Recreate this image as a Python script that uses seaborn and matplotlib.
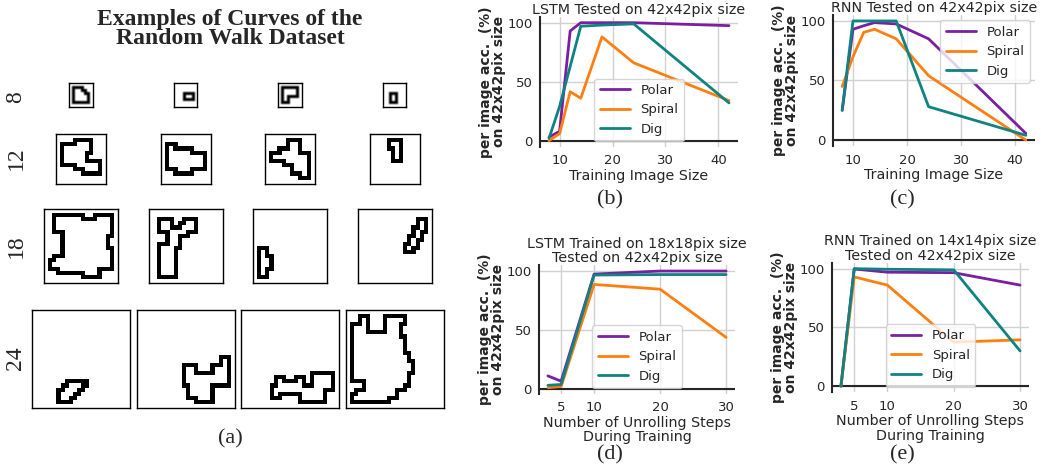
import numpy as np
import pandas as pd
import matplotlib
matplotlib.use("Agg")
import matplotlib.pyplot as plt
import seaborn as sns

# ---- panel (a): random walk curves, corner points of each closed loop (col, row) ----
grid_sizes = [8, 12, 18, 24]
row_labels = ['8', '12', '18', '24']

curves_8 = [
    [(1, 1), (4, 1), (4, 2), (5, 2), (5, 3), (6, 3), (6, 6), (1, 6)],
    [(3, 3), (6, 3), (6, 5), (3, 5)],
    [(1, 1), (6, 1), (6, 4), (3, 4), (3, 6), (1, 6)],
    [(2, 3), (4, 3), (4, 6), (2, 6)],
]
curves_12 = [
    [(1, 2), (4, 2), (4, 1), (8, 1), (8, 4), (7, 4), (7, 6), (10, 6), (10, 9), (6, 9), (6, 8), (4, 8), (4, 7), (1, 7)],
    [(1, 2), (3, 2), (3, 3), (7, 3), (7, 4), (10, 4), (10, 8), (7, 8), (7, 9), (3, 9), (3, 8), (1, 8)],
    [(5, 1), (8, 1), (8, 4), (10, 4), (10, 10), (8, 10), (8, 9), (6, 9), (6, 7), (4, 7), (4, 6), (1, 6), (1, 4), (3, 4), (3, 3), (5, 3)],
    [(4, 1), (7, 1), (7, 6), (5, 6), (5, 3), (4, 3)],
]
curves_18 = [
    [(2, 1), (9, 1), (9, 2), (12, 2), (12, 1), (16, 1), (16, 6), (15, 6), (15, 9), (16, 9), (16, 14), (13, 14), (13, 16),
     (9, 16), (9, 15), (3, 15), (3, 14), (1, 14), (1, 12), (2, 12), (2, 11), (4, 11), (4, 5), (2, 5)],
    [(2, 2), (5, 2), (5, 4), (7, 4), (7, 3), (8, 3), (8, 2), (11, 2), (11, 5), (9, 5), (9, 6), (7, 6), (7, 9), (6, 9),
     (6, 16), (2, 16), (2, 8), (4, 8), (4, 5), (2, 5)],
    [(1, 9), (3, 9), (3, 11), (4, 11), (4, 14), (3, 14), (3, 16), (1, 16)],
    [(14, 2), (16, 2), (16, 5), (15, 5), (15, 7), (14, 7), (14, 9), (13, 9), (13, 10), (11, 10), (11, 8), (12, 8),
     (12, 6), (13, 6), (13, 4), (14, 4)],
]
curves_24 = [
    [(8, 17), (13, 17), (13, 18), (12, 18), (12, 19), (11, 19), (11, 20), (10, 20), (10, 21), (9, 21), (9, 22), (6, 22),
     (6, 19), (7, 19), (7, 18), (8, 18)],
    [(11, 13), (14, 13), (14, 15), (18, 15), (18, 13), (20, 13), (20, 11), (22, 11), (22, 18), (18, 18), (18, 22),
     (14, 22), (14, 21), (12, 21), (12, 18), (11, 18)],
    [(8, 16), (10, 16), (10, 17), (13, 17), (13, 16), (15, 16), (15, 18), (17, 18), (17, 15), (22, 15), (22, 19),
     (20, 19), (20, 22), (14, 22), (14, 20), (9, 20), (9, 21), (7, 21), (7, 18), (8, 18)],
    [(1, 3), (3, 3), (3, 1), (5, 1), (5, 5), (9, 5), (9, 1), (14, 1), (14, 3), (13, 3), (13, 6), (14, 6), (14, 10),
     (15, 10), (15, 12), (16, 12), (16, 15), (15, 15), (15, 18), (14, 18), (14, 19), (12, 19), (12, 21), (10, 21),
     (10, 22), (1, 22), (1, 20), (2, 20), (2, 19), (4, 19), (4, 17), (1, 17)],
]
all_curves = [curves_8, curves_12, curves_18, curves_24]

# ---- panels (b)-(e) ----
labels = ['Polar', 'Spiral', 'Dig']
colors = ['#7a1fa2', '#ff7f0e', '#0f8282']

train_size = [8, 10, 12, 14, 18, 24, 42]
lstm_size_polar = [3, 8, 93, 100, 100, 100, 97.5]
lstm_size_spiral = [0, 6, 41.5, 36, 88, 66, 34]
lstm_size_dig = [2, 29, 63, 97, 98, 99, 32]

rnn_size_polar = [25, 93, 96, 98.6, 97.5, 85, 5.6]
rnn_size_spiral = [45, 70, 90.5, 93, 85, 54, 0]
rnn_size_dig = [25, 100, 100, 100, 100, 28, 4]

unroll_steps = [3, 5, 10, 20, 30]
lstm_steps_polar = [11, 6.5, 97.4, 100, 100]
lstm_steps_spiral = [1, 2, 88.6, 84.6, 43.7]
lstm_steps_dig = [3, 3.7, 96.6, 97, 97]

rnn_steps_polar = [0, 99.7, 97, 96.6, 86]
rnn_steps_spiral = [0, 93, 86, 37.4, 39.4]
rnn_steps_dig = [0, 100, 99.5, 99, 30]

W, H = 1041, 467


def px_axes(fig, x0, y0, x1, y1):
    return fig.add_axes([x0 / W, 1 - y1 / H, (x1 - x0) / W, (y1 - y0) / H])


def loop_image(n, verts):
    img = np.zeros((n, n))
    pts = verts + verts[:1]
    for (c0, r0), (c1, r1) in zip(pts[:-1], pts[1:]):
        img[min(r0, r1):max(r0, r1) + 1, min(c0, c1):max(c0, c1) + 1] = 1
    return img


def long_df(x, series):
    rows = []
    for name, vals in zip(labels, series):
        for xv, yv in zip(x, vals):
            rows.append({'x': xv, 'acc': yv, 'method': name})
    return pd.DataFrame(rows)


sns.set_style('whitegrid')
plt.rcParams['font.family'] = ['DejaVu Sans']

fig = plt.figure(figsize=(W / 100, H / 100), dpi=100)

# panel (a) layout in pixels
col_centers = [81, 185.5, 290, 394.5]
row_boxes = [(83, 24), (134, 50), (209, 74), (310, 98)]
label_y = [97, 158, 246, 358]

for curves, n, (top, size) in zip(all_curves, grid_sizes, row_boxes):
    for cx, verts in zip(col_centers, curves):
        ax = px_axes(fig, cx - size / 2, top, cx + size / 2, top + size)
        ax.imshow(loop_image(n, verts), cmap='gray_r', vmin=0, vmax=1, interpolation='antialiased')
        ax.set_xticks([])
        ax.set_yticks([])
        ax.grid(False)
        for sp in ax.spines.values():
            sp.set_color('k')
            sp.set_linewidth(1.0)

for lab, ly in zip(row_labels, label_y):
    fig.text(16 / W, 1 - ly / H, lab, rotation=90, ha='center', va='center',
             family='Liberation Serif', fontsize=17)

fig.text(230 / W, 1 - 29 / H, 'Examples of Curves of the\nRandom Walk Dataset', ha='center', va='center',
         family='Liberation Serif', fontweight='bold', fontsize=17, linespacing=0.9)
fig.text(230 / W, 1 - 439 / H, '(a)', ha='center', va='center', family='Liberation Serif', fontsize=16)

# panels (b)-(e)
panels = [
    dict(box=(540, 16.8, 738, 146.6), x=train_size, series=[lstm_size_polar, lstm_size_spiral, lstm_size_dig],
         title='LSTM Tested on 42x42pix size', xlabel='Training Image Size', xticks=[10, 20, 30, 40],
         loc='lower center', tag='(b)', tag_xy=(610, 200)),
    dict(box=(833, 15, 1035, 146), x=train_size, series=[rnn_size_polar, rnn_size_spiral, rnn_size_dig],
         title='RNN Tested on 42x42pix size', xlabel='Training Image Size', xticks=[10, 20, 30, 40],
         loc='upper right', tag='(c)', tag_xy=(902, 200)),
    dict(box=(539, 265.2, 735, 393.5), x=unroll_steps, series=[lstm_steps_polar, lstm_steps_spiral, lstm_steps_dig],
         title='LSTM Trained on 18x18pix size\nTested on 42x42pix size',
         xlabel='Number of Unrolling Steps\nDuring Training', xticks=[5, 10, 20, 30],
         loc='lower center', tag='(d)', tag_xy=(610, 455)),
    dict(box=(832, 262.8, 1029, 392), x=unroll_steps, series=[rnn_steps_polar, rnn_steps_spiral, rnn_steps_dig],
         title='RNN Trained on 14x14pix size\nTested on 42x42pix size',
         xlabel='Number of Unrolling Steps\nDuring Training', xticks=[5, 10, 20, 30],
         loc='lower center', tag='(e)', tag_xy=(902, 455)),
]

for p in panels:
    ax = px_axes(fig, *p['box'])
    df = long_df(p['x'], p['series'])
    sns.lineplot(data=df, x='x', y='acc', hue='method', palette=colors, linewidth=2, ax=ax)
    ax.axhline(0, color='.15', linewidth=1.5, zorder=1)
    ax.set_xticks(p['xticks'])
    ax.set_yticks([0, 50, 100])
    ax.tick_params(labelsize=9.5, colors='.15', pad=2)
    ax.set_title(p['title'], fontsize=10.3, color='.15', pad=2, linespacing=1.05)
    ax.set_xlabel(p['xlabel'], fontsize=10.3, color='.15', labelpad=1, linespacing=1.05)
    ax.set_ylabel('per image acc.  (%)\non 42x42pix size', fontsize=10, fontweight='bold', color='.15',
                  labelpad=0.5, linespacing=0.95)
    for side in ['top', 'right', 'bottom']:
        ax.spines[side].set_visible(False)
    ax.spines['left'].set_color('.15')
    ax.spines['left'].set_linewidth(1.5)
    ax.grid(True, color='.82', linewidth=1)
    handles, labs = ax.get_legend_handles_labels()
    ax.legend(handles, labs, loc=p['loc'], fontsize=9.5, handlelength=2.3, frameon=True,
              labelcolor='.15', borderaxespad=0.4)
    fig.text(p['tag_xy'][0] / W, 1 - p['tag_xy'][1] / H, p['tag'], ha='center', va='center',
             family='Liberation Serif', fontsize=16)

fig.savefig('out.png', dpi=100)
